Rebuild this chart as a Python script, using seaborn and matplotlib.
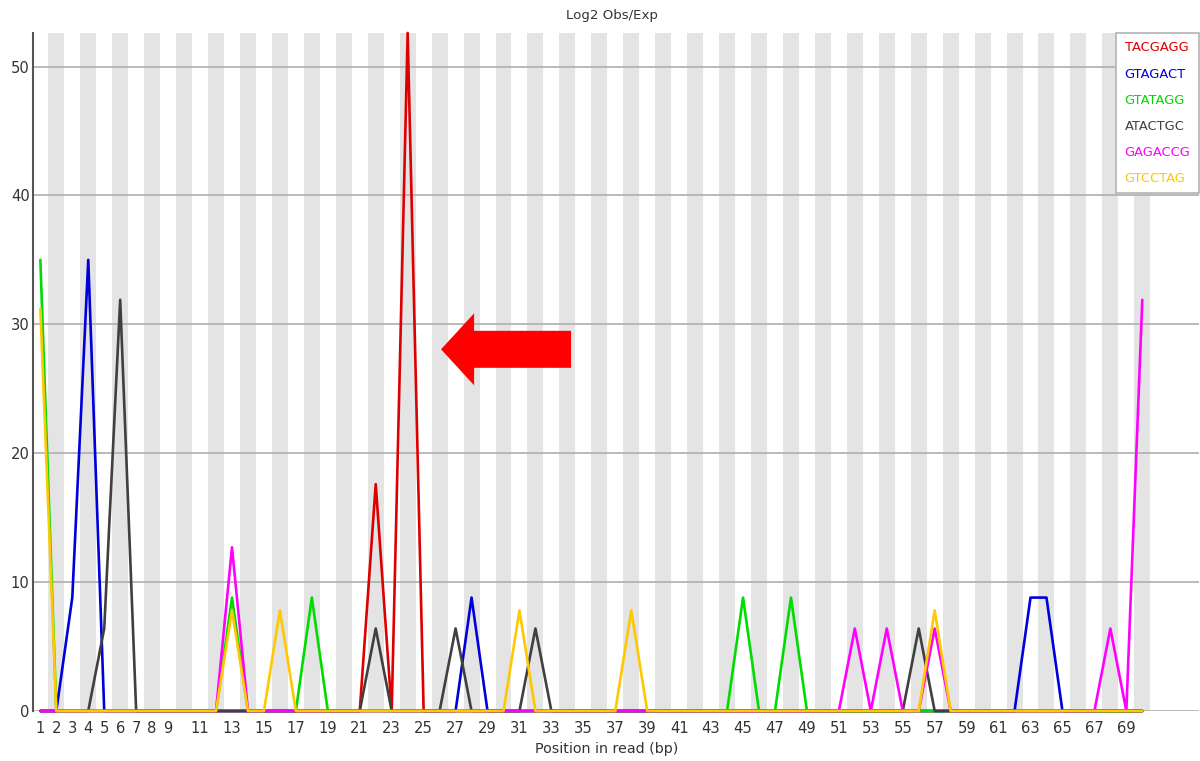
import matplotlib
matplotlib.use("Agg")
import matplotlib.pyplot as plt
from matplotlib.lines import Line2D
from matplotlib.patches import FancyArrow
import pandas as pd
import seaborn as sns

# Read positions (bp) along the x axis
positions = list(range(1, 71))

# Log2 Obs/Exp per position for each enriched k-mer
kmers = ["TACGAGG", "GTAGACT", "GTATAGG", "ATACTGC", "GAGACCG", "GTCCTAG"]
kmer_colors = ["#DC0000", "#0000DC", "#00DC00", "#404040", "#FF00FF", "#FFC800"]

tacgagg = [0, 0, 0, 0, 0, 0, 0, 0, 0, 0,
           0, 0, 0, 0, 0, 0, 0, 0, 0, 0,
           0, 17.6, 0, 52.6, 0, 0, 0, 0, 0, 0,
           0, 0, 0, 0, 0, 0, 0, 0, 0, 0,
           0, 0, 0, 0, 0, 0, 0, 0, 0, 0,
           0, 0, 0, 0, 0, 0, 0, 0, 0, 0,
           0, 0, 0, 0, 0, 0, 0, 0, 0, 0]

gtagact = [0, 0, 8.8, 35.0, 0, 0, 0, 0, 0, 0,
           0, 0, 0, 0, 0, 0, 0, 0, 0, 0,
           0, 0, 0, 0, 0, 0, 0, 8.8, 0, 0,
           0, 0, 0, 0, 0, 0, 0, 0, 0, 0,
           0, 0, 0, 0, 0, 0, 0, 0, 0, 0,
           0, 0, 0, 0, 0, 0, 0, 0, 0, 0,
           0, 0, 8.8, 8.8, 0, 0, 0, 0, 0, 0]

gtatagg = [35.0, 0, 0, 0, 0, 0, 0, 0, 0, 0,
           0, 0, 8.8, 0, 0, 0, 0, 8.8, 0, 0,
           0, 0, 0, 0, 0, 0, 0, 0, 0, 0,
           0, 0, 0, 0, 0, 0, 0, 0, 0, 0,
           0, 0, 0, 0, 8.8, 0, 0, 8.8, 0, 0,
           0, 0, 0, 0, 0, 0, 0, 0, 0, 0,
           0, 0, 0, 0, 0, 0, 0, 0, 0, 0]

atactgc = [0, 0, 0, 0, 6.4, 31.9, 0, 0, 0, 0,
           0, 0, 0, 0, 0, 0, 0, 0, 0, 0,
           0, 6.4, 0, 0, 0, 0, 6.4, 0, 0, 0,
           0, 6.4, 0, 0, 0, 0, 0, 0, 0, 0,
           0, 0, 0, 0, 0, 0, 0, 0, 0, 0,
           0, 0, 0, 0, 0, 6.4, 0, 0, 0, 0,
           0, 0, 0, 0, 0, 0, 0, 0, 0, 0]

gagaccg = [0, 0, 0, 0, 0, 0, 0, 0, 0, 0,
           0, 0, 12.7, 0, 0, 0, 0, 0, 0, 0,
           0, 0, 0, 0, 0, 0, 0, 0, 0, 0,
           0, 0, 0, 0, 0, 0, 0, 0, 0, 0,
           0, 0, 0, 0, 0, 0, 0, 0, 0, 0,
           0, 6.4, 0, 6.4, 0, 0, 6.4, 0, 0, 0,
           0, 0, 0, 0, 0, 0, 0, 6.4, 0, 31.9]

gtcctag = [31.2, 0, 0, 0, 0, 0, 0, 0, 0, 0,
           0, 0, 7.8, 0, 0, 7.8, 0, 0, 0, 0,
           0, 0, 0, 0, 0, 0, 0, 0, 0, 0,
           7.8, 0, 0, 0, 0, 0, 0, 7.8, 0, 0,
           0, 0, 0, 0, 0, 0, 0, 0, 0, 0,
           0, 0, 0, 0, 0, 0, 7.8, 0, 0, 0,
           0, 0, 0, 0, 0, 0, 0, 0, 0, 0]

series = [tacgagg, gtagact, gtatagg, atactgc, gagaccg, gtcctag]

x_tick_labels = [1, 2, 3, 4, 5, 6, 7, 8, 9] + list(range(11, 70, 2))
y_ticks = [0, 10, 20, 30, 40, 50]
y_max = 52.6

df = pd.concat(
    [pd.DataFrame({"position": positions, "value": vals, "kmer": name})
     for name, vals in zip(kmers, series)],
    ignore_index=True,
)

sns.set_theme(style="white")
plt.rcParams["font.family"] = ["DejaVu Sans"]

W, H = 1200, 761
fig = plt.figure(figsize=(W / 100, H / 100), dpi=100)
ax = fig.add_axes([33 / W, 1 - 711 / H, (1199 - 33) / W, (711 - 33) / H])

ax.set_xlim(0.54, 73.55)
ax.set_ylim(0, y_max)

# alternating grey bands behind every other position
for p in positions:
    if p % 2 == 0:
        ax.axvspan(p - 0.5, p + 0.5, color="#E4E4E4", lw=0, zorder=0)

for yt in y_ticks:
    ax.axhline(yt, color="#B4B4B4", lw=1.3, zorder=1)
n_grid = len(ax.lines)

sns.lineplot(data=df, x="position", y="value", hue="kmer", hue_order=kmers,
             palette=kmer_colors, estimator=None, sort=False, linewidth=1.9,
             legend=False, ax=ax, zorder=3)
for ln in ax.lines[n_grid:]:
    ln.set_clip_on(False)

# arrow pointing at the TACGAGG spike
ax.add_patch(FancyArrow(34.23, 28.06, 26.09 - 34.23, 0, width=2.87,
                        head_width=5.58, head_length=2.07,
                        length_includes_head=True, color="#FF0000", lw=0,
                        zorder=4))

ax.set_xticks(x_tick_labels)
ax.set_xticklabels([str(v) for v in x_tick_labels])
ax.set_yticks(y_ticks)
ax.set_yticklabels([str(v) for v in y_ticks])
ax.tick_params(axis="x", length=0, pad=7, labelsize=10.6, colors="#333333")
ax.tick_params(axis="y", length=0, pad=2.5, labelsize=10.6, colors="#333333")
ax.set_xlabel("")
ax.set_ylabel("")

for side in ["top", "right", "bottom"]:
    ax.spines[side].set_visible(False)
ax.spines["left"].set_color("#555555")
ax.spines["left"].set_linewidth(1.5)

handles = [Line2D([], [], lw=0, color=c) for c in kmer_colors]
leg = ax.legend(handles, kmers, labelcolor=kmer_colors, loc="upper right",
                bbox_to_anchor=(1.0, 1.0), handlelength=0, handletextpad=0,
                borderpad=0.65, labelspacing=1.0, fontsize=9.4,
                frameon=True, fancybox=False, framealpha=1,
                edgecolor="#B4B4B4", borderaxespad=0)
leg.get_frame().set_linewidth(1.2)
leg.set_zorder(5)

fig.text(612 / W, 1 - 15 / H, "Log2 Obs/Exp", ha="center", va="center",
         fontsize=9.6, color="#333333")
fig.text(607 / W, 1 - 749 / H, "Position in read (bp)", ha="center",
         va="center", fontsize=10.3, color="#333333")

fig.savefig("out.png", dpi=100, facecolor="white")
